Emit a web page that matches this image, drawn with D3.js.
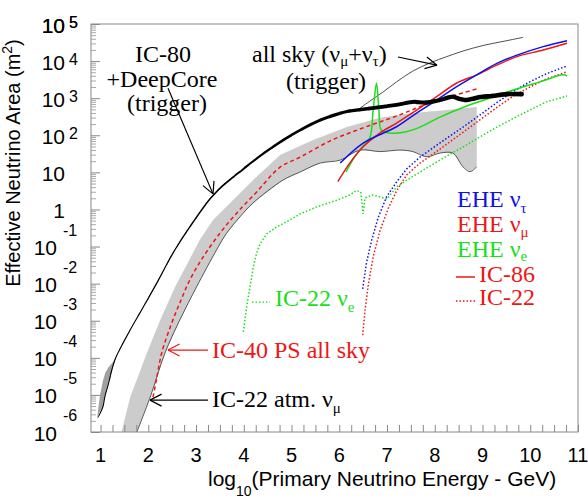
<!DOCTYPE html>
<html>
<head>
<meta charset="utf-8">
<script src="https://cdn.jsdelivr.net/npm/d3@7"></script>
<style>
body { margin: 0; background: #fff; }
</style>
</head>
<body>
<div id="chart"></div>
<script>
// all points are [log10(E / GeV), log10(area / m^2)]
var ic80 = [[0.95,-5.60],[1.05,-5.32],[1.09,-5.05],[1.16,-4.73],[1.30,-4.06],[1.62,-3.25],[1.86,-2.71],[2.18,-1.98],
    [2.52,-1.17],[2.87,-0.47],[3.29,0.28],[3.56,0.64],[3.98,1.08],[4.40,1.50],[4.90,1.93],[5.18,2.14],[5.60,2.41],
    [6.16,2.64],[6.50,2.70],[6.85,2.76],[7.20,2.82],[7.54,2.90],[7.80,2.88],[8.11,2.95],[8.38,3.04],[8.52,2.98],
    [8.67,2.95],[8.95,3.03],[9.20,3.06],[9.51,3.11],[9.82,3.11]];
// [logE, low, high]
var deepCore = [[0.93,-5.62,-5.60],[0.99,-5.45,-5.00],[1.05,-5.32,-4.62],[1.10,-5.03,-4.40],[1.16,-4.73,-4.27],
    [1.26,-4.26,-4.11],[1.33,-3.97,-3.93],[1.37,-3.84,-3.83]];
var atmUpper = [[1.44,-6.0],[1.62,-5.06],[1.97,-3.87],[2.25,-2.98],[2.56,-2.09],[3.08,-0.82],[3.36,-0.28],[3.77,0.25],
    [4.24,0.85],[4.76,1.47],[5.45,1.87],[6.16,2.22],[6.85,2.47],[7.54,2.60],[8.25,2.68],[8.88,2.76]];
var atmLower = [[1.76,-6.0],[2.04,-5.06],[2.35,-3.87],[2.66,-2.98],[3.01,-2.09],[3.43,-1.09],[3.64,-0.64],[3.92,-0.20],
    [4.19,0.17],[4.82,0.79],[5.18,1.01],[5.60,1.25],[6.02,1.33],[6.43,1.60],[6.85,1.56],[7.27,1.60],[7.54,1.56],
    [7.83,1.42],[8.11,1.52],[8.38,1.52],[8.59,1.15],[8.74,1.02],[8.88,1.15]];
var ic40 = [[2.10,-5.06],[2.18,-4.52],[2.28,-3.87],[2.46,-3.17],[2.66,-2.52],[2.87,-1.90],[3.15,-1.28],[3.50,-0.64],
    [3.85,-0.10],[4.27,0.47],[4.76,1.14],[5.18,1.41],[5.81,1.85],[6.50,2.20],[7.20,2.52],[7.90,2.87],[8.88,3.25]];
var allSky = [[6.33,2.63],[6.64,2.92],[6.92,3.17],[7.20,3.44],[7.54,3.73],[7.90,3.95],[8.25,4.12],[8.59,4.27],
    [9.01,4.42],[9.43,4.53],[9.85,4.64]];

var tau86 = [[6.02,1.25],[6.50,1.79],[7.20,2.23],[7.62,2.60],[8.04,2.95],[8.46,3.31],[8.88,3.63],[9.30,3.94],
    [9.72,4.16],[10.27,4.39],[10.77,4.55]];
var mu86 = [[5.97,0.75],[6.22,1.25],[6.50,1.69],[6.85,2.06],[7.20,2.33],[7.62,2.68],[8.04,3.04],[8.46,3.41],
    [8.88,3.63],[9.30,3.89],[9.72,4.12],[10.27,4.30],[10.77,4.48]];
var e86 = [[6.14,1.01],[6.35,1.47],[6.50,1.71],[6.64,1.93],[6.71,2.68],[6.78,3.41],[6.83,2.68],[6.88,2.14],
    [7.06,2.06],[7.38,2.09],[7.69,2.22],[8.11,2.49],[8.67,2.79],[9.22,3.03],[9.64,3.22],[10.20,3.44],[10.69,3.63],[10.77,3.60]];
var tau22 = [[6.49,-2.14],[6.57,-1.44],[6.68,-0.82],[6.82,-0.20],[6.99,0.34],[7.20,0.74],[7.41,1.09],[7.69,1.41],
    [7.96,1.66],[8.25,1.92],[8.59,2.22],[8.95,2.55],[9.30,2.88],[9.64,3.18],[9.99,3.44],[10.34,3.66],[10.77,3.87]];
var mu22 = [[6.49,-3.39],[6.54,-2.71],[6.61,-2.01],[6.71,-1.28],[6.85,-0.58],[7.03,0.04],[7.20,0.50],[7.41,0.93],
    [7.69,1.25],[7.97,1.50],[8.25,1.76],[8.59,2.08],[8.95,2.42],[9.30,2.75],[9.64,3.05],[9.99,3.30],[10.34,3.52],[10.77,3.71]];
var e22 = [[3.99,-3.30],[4.06,-2.63],[4.13,-2.09],[4.20,-1.55],[4.27,-1.17],[4.34,-0.93],[4.48,-0.66],[4.69,-0.47],
    [4.97,-0.28],[5.18,-0.12],[5.53,0.07],[5.95,0.25],[6.22,0.39],[6.36,0.51],[6.45,0.47],[6.50,-0.12],[6.54,0.31],
    [6.69,0.39],[6.85,0.34],[7.00,0.28],[7.20,0.61],[7.55,0.90],[7.90,1.17],[8.25,1.44],[8.60,1.69],[8.95,1.96],
    [9.30,2.22],[9.64,2.45],[9.99,2.68],[10.34,2.90],[10.77,3.06]];

var xTicks = d3.range(1, 11.01, 0.25);
var xLabels = d3.range(1, 12);
var decades = d3.range(-6, 6);

var blue = "#1010ee", red = "#ee1515", green = "#18e018";
var serif = "'Liberation Serif', 'DejaVu Serif', serif", sans = "'Liberation Sans', Arial, sans-serif";

var W = 588, H = 500;
var m = { left: 91, top: 24, right: 10, bottom: 68 };
var x = d3.scaleLinear().domain([0.8, 11]).range([m.left, W - m.right]);
var y = d3.scaleLinear().domain([-6, 5]).range([H - m.bottom, m.top]);

var svg = d3.select("#chart").append("svg").attr("width", W).attr("height", H);
var defs = svg.append("defs");

defs.append("clipPath").attr("id", "plot")
    .append("rect").attr("x", x(0.8)).attr("y", y(5)).attr("width", x(11) - x(0.8)).attr("height", y(-6) - y(5));

var plot = svg.append("g").attr("clip-path", "url(#plot)");

var line = d3.line().x(function(d) { return x(d[0]); }).y(function(d) { return y(d[1]); });
var smooth = d3.line().x(function(d) { return x(d[0]); }).y(function(d) { return y(d[1]); })
    .curve(d3.curveCatmullRom.alpha(0.5));

// IC-22 atm. nu_mu band
plot.append("path")
    .attr("d", line(atmUpper.concat(atmLower.slice().reverse())) + "Z")
    .attr("fill", "#cccccc");
plot.append("path").attr("d", smooth(atmLower))
    .attr("fill", "none").attr("stroke", "#333").attr("stroke-width", 0.8);

// DeepCore low energy band
plot.append("path")
    .attr("d", d3.area().x(function(d) { return x(d[0]); })
        .y0(function(d) { return y(d[1]); }).y1(function(d) { return y(d[2]); })(deepCore))
    .attr("fill", "#a0a0a0");

// all sky trigger
plot.append("path").attr("d", smooth(allSky))
    .attr("fill", "none").attr("stroke", "#222").attr("stroke-width", 0.8);

// IC-40 point source
plot.append("path").attr("d", smooth(ic40))
    .attr("fill", "none").attr("stroke", red).attr("stroke-width", 1.5).attr("stroke-dasharray", "4,3");

// IC-22 dotted
[[e22, green], [tau22, blue], [mu22, red]].forEach(function(s) {
    plot.append("path").attr("d", line(s[0]))
        .attr("fill", "none").attr("stroke", s[1]).attr("stroke-width", 1.5).attr("stroke-dasharray", "1.5,2");
});

// IC-86 solid
[[e86, green], [mu86, red], [tau86, blue]].forEach(function(s) {
    plot.append("path").attr("d", smooth(s[0]))
        .attr("fill", "none").attr("stroke", s[1]).attr("stroke-width", 1.5);
});

// IC-80 + DeepCore trigger, getting thicker to the right: same smooth path in x strips
var lw = d3.scaleLinear().domain([1, 3.3, 5, 7, 9]).range([1, 1.5, 2.6, 3.8, 4.6]).clamp(true);
var strips = d3.range(0.8, 10.01, 0.2);
var ic80Path = smooth(ic80);
strips.forEach(function(s, i) {
    var id = "strip" + i;
    defs.append("clipPath").attr("id", id).append("rect")
        .attr("x", x(s)).attr("y", y(5)).attr("width", x(s + 0.2) - x(s) + 0.5).attr("height", y(-6) - y(5));
    plot.append("g").attr("clip-path", "url(#" + id + ")")
        .append("path").attr("d", ic80Path)
        .attr("fill", "none").attr("stroke", "#000").attr("stroke-linecap", "round")
        .attr("stroke-width", lw(s + 0.1));
});

// frame and ticks
var axisCol = "#888";
svg.append("g").attr("transform", "translate(0," + y(-6) + ")")
    .call(d3.axisBottom(x).tickValues(xTicks).tickSize(-7).tickFormat(""))
    .call(function(g) { g.select(".domain").remove(); g.selectAll("line").attr("stroke", axisCol); });

var minor = [];
decades.forEach(function(k) {
    for (var j = 2; j < 10; j++) if (k + Math.log10(j) < 5) minor.push(k + Math.log10(j));
});
svg.append("g").attr("transform", "translate(" + x(0.8) + ",0)")
    .call(d3.axisLeft(y).tickValues(minor).tickSize(-5).tickFormat(""))
    .call(function(g) { g.select(".domain").remove(); g.selectAll("line").attr("stroke", "#aaa"); });
svg.append("g").attr("transform", "translate(" + x(0.8) + ",0)")
    .call(d3.axisLeft(y).tickValues(decades).tickSize(-9).tickFormat(""))
    .call(function(g) { g.select(".domain").remove(); g.selectAll("line").attr("stroke", axisCol); });

svg.append("rect").attr("x", x(0.8)).attr("y", y(5)).attr("width", x(11) - x(0.8)).attr("height", y(-6) - y(5))
    .attr("fill", "none").attr("stroke", axisCol).attr("stroke-width", 1);

// tick labels
xLabels.forEach(function(v) {
    svg.append("text").attr("x", x(v)).attr("y", 462).attr("text-anchor", "middle")
        .attr("font-family", sans).attr("font-size", 20).text(v);
});
decades.concat([5]).forEach(function(k) {
    var ty = y(k);
    if (k === 0 || k === 1) {
        svg.append("text").attr("x", 65).attr("y", ty + 8.5).attr("text-anchor", "end")
            .attr("font-family", sans).attr("font-size", 21).text(k === 0 ? "1" : "10");
    } else if (k > 0) {
        svg.append("text").attr("x", 65).attr("y", ty + 8.5).attr("text-anchor", "end")
            .attr("font-family", sans).attr("font-size", 21).text("10");
        svg.append("text").attr("x", 69).attr("y", ty + 4).attr("font-family", sans).attr("font-size", 16).text(k);
    } else {
        svg.append("text").attr("x", 57).attr("y", ty + 8.5).attr("text-anchor", "end")
            .attr("font-family", sans).attr("font-size", 21).text("10");
        svg.append("text").attr("x", 63).attr("y", ty - 11).attr("font-family", sans).attr("font-size", 16).text(k);
    }
});

// text with sub/superscripts: parts are strings or [text, shift]
function rich(g, px, py, parts, size, fill, family, subSize) {
    var t = g.append("text").attr("x", px).attr("y", py)
        .attr("font-family", family).attr("font-size", size).attr("fill", fill);
    var cur = 0;
    parts.forEach(function(p) {
        var s = typeof p === "string" ? [p, 0] : p;
        var ts = t.append("tspan").attr("dy", s[1] - cur).text(s[0]);
        if (s[1] !== 0) ts.attr("font-size", subSize || size * 0.68);
        cur = s[1];
    });
    return t;
}

// axis titles
rich(svg, 208, 486, ["log", ["10", 10], "(Primary Neutrino Energy - GeV)"], 21, "#000", sans, 14);
rich(svg.append("g").attr("transform", "translate(20,163) rotate(-90)"), 0, 0,
    ["Effective Neutrino Area (m", ["2", -8], ")"], 20, "#000", sans, 14)
    .attr("text-anchor", "middle");

// annotations
function arrow(a, b, col, dash) {
    var x1 = x(a[0]), y1 = y(a[1]), x2 = x(b[0]), y2 = y(b[1]);
    var ang = Math.atan2(y2 - y1, x2 - x1), L = 13, sp = 0.48;
    var l = svg.append("line").attr("x1", x1).attr("y1", y1).attr("x2", x2).attr("y2", y2)
        .attr("stroke", col).attr("stroke-width", 1.2);
    if (dash) { l.attr("stroke-dasharray", dash); return; }
    [ang + Math.PI - sp, ang + Math.PI + sp].forEach(function(t) {
        svg.append("line").attr("x1", x2).attr("y1", y2)
            .attr("x2", x2 + L * Math.cos(t)).attr("y2", y2 + L * Math.sin(t))
            .attr("stroke", col).attr("stroke-width", 1.2);
    });
}

["IC-80", "+DeepCore", "(trigger)"].forEach(function(s, i) {
    svg.append("text").attr("x", [163, 162, 167][i]).attr("y", [62, 87, 111][i]).attr("text-anchor", "middle")
        .attr("font-family", serif).attr("font-size", 24).text(s);
});
arrow([2.413, 3.27], [3.355, 0.42], "#000");

rich(svg, 252, 62, ["all sky (ν", ["μ", 4], "+ν", ["τ", 4], ")"], 24, "#000", serif, 15);
svg.append("text").attr("x", 326).attr("y", 89).attr("text-anchor", "middle")
    .attr("font-family", serif).attr("font-size", 24).text("(trigger)");
arrow([7.229, 4.11], [8.046, 3.89], "#000");

svg.append("text").attr("x", 212).attr("y", 358).attr("font-family", serif).attr("font-size", 24)
    .attr("fill", red).text("IC-40 PS all sky");
arrow([3.25, -3.79], [2.413, -3.79], red);

rich(svg, 212, 407, ["IC-22 atm. ν", ["μ", 6]], 24, "#000", serif, 15);
arrow([3.25, -5.14], [2.036, -5.14], "#000");

rich(svg, 275, 306, ["IC-22 ν", ["e", 6]], 24, green, serif, 15);
arrow([4.172, -2.50], [4.549, -2.50], green, "1.5,2");

// legend
rich(svg, 457, 207, ["EHE ν", ["τ", 6]], 24, blue, serif, 15);
rich(svg, 457, 232, ["EHE ν", ["μ", 5]], 24, red, serif, 15);
rich(svg, 457, 257, ["EHE ν", ["e", 4]], 24, green, serif, 15);
svg.append("line").attr("x1", 456).attr("x2", 475).attr("y1", 277).attr("y2", 277)
    .attr("stroke", red).attr("stroke-width", 1.5);
svg.append("text").attr("x", 479).attr("y", 282).attr("font-family", serif).attr("font-size", 24)
    .attr("fill", red).text("IC-86");
svg.append("line").attr("x1", 456).attr("x2", 475).attr("y1", 301).attr("y2", 301)
    .attr("stroke", red).attr("stroke-width", 1.5).attr("stroke-dasharray", "1.5,2");
svg.append("text").attr("x", 479).attr("y", 305).attr("font-family", serif).attr("font-size", 24)
    .attr("fill", red).text("IC-22");
</script>
</body>
</html>
